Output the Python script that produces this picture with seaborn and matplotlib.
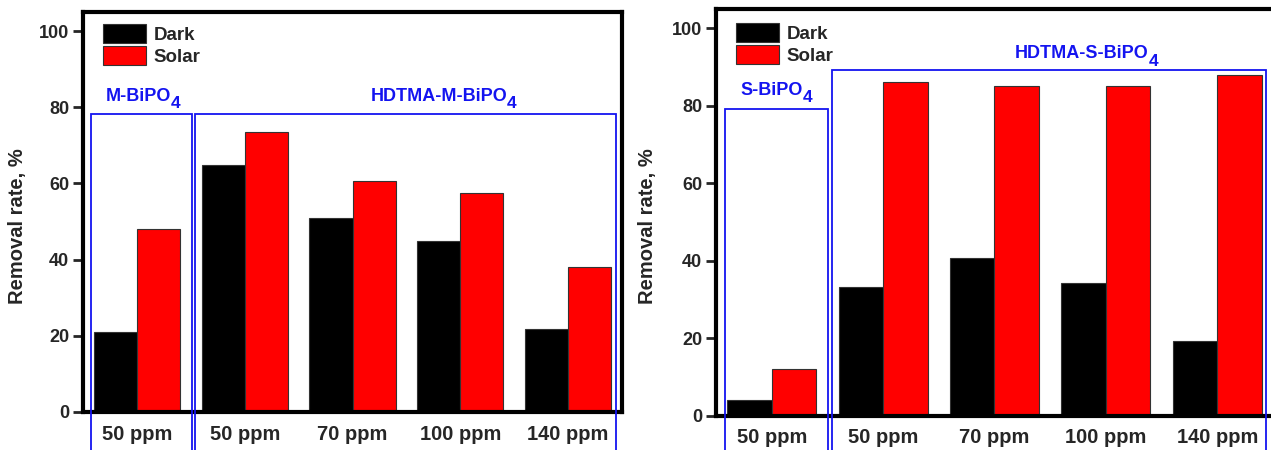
import seaborn as sns
import matplotlib.pyplot as plt
import pandas as pd
from matplotlib.patches import Rectangle

# ---------------------------
# Data
# ---------------------------
concentrations = ["50 ppm", "50 ppm ", "70 ppm", "100 ppm", "140 ppm"]
lights = ["Dark", "Solar"]

m_dark = [21.0, 64.8, 51.0, 45.0, 21.9]
m_solar = [48.0, 73.6, 60.6, 57.6, 38.0]

s_dark = [4.0, 33.1, 40.6, 34.2, 19.4]
s_solar = [12.0, 86.2, 85.1, 85.0, 87.9]


def make_df(dark, solar):
    return pd.DataFrame({
        "Concentration": concentrations * 2,
        "Light": ["Dark"] * len(dark) + ["Solar"] * len(solar),
        "Rate": list(dark) + list(solar),
    })


# ---------------------------
# Styling
# ---------------------------
sns.set_style("ticks")
plt.rcParams["font.family"] = ["Liberation Sans", "DejaVu Sans"]
plt.rcParams["font.weight"] = "bold"

palette = {"Dark": "#000000", "Solar": "#ff0000"}
blue = "#1414f0"

fig = plt.figure(figsize=(12.71, 4.5), dpi=100)
ax1 = fig.add_axes([83 / 1271, 1 - 412 / 450, 539 / 1271, 400 / 450])
ax2 = fig.add_axes([716 / 1271, 1 - 415.7 / 450, 557 / 1271, 406.7 / 450])

panels = [
    (ax1, make_df(m_dark, m_solar), 0.037, 0.97,
     [(-0.428, 0.512, 78.3), (0.54, 4.447, 78.3)],
     [(0.01, 81.7, "M-BiPO"), (2.8, 81.7, "HDTMA-M-BiPO")],
     -10.5, (-0.104, 0.465)),
    (ax2, make_df(s_dark, s_solar), 0.036, 0.966,
     [(-0.418, 0.508, 79.3), (0.54, 4.435, 89.2)],
     [(0.0, 82.8, "S-BiPO"), (2.78, 92.3, "HDTMA-S-BiPO")],
     -9.5, (-0.106, 0.466)),
]

for ax, df, lx, ly, boxes, labels, ybot, ylab in panels:
    sns.barplot(
        data=df, x="Concentration", y="Rate", hue="Light",
        hue_order=lights, palette=palette, saturation=1,
        width=0.8, gap=0, edgecolor="#333333", linewidth=0.8,
        ax=ax,
    )
    ax.set_xlim(-0.5, 4.5)
    ax.set_ylim(0, 105)
    ax.set_yticks([0, 20, 40, 60, 80, 100])
    ax.set_xlabel("")
    ax.set_ylabel("Removal rate, %", fontsize=14.5, fontweight="bold")
    ax.yaxis.set_label_coords(*ylab)
    ax.set_xticks(range(len(concentrations)))
    ax.set_xticklabels([c.strip() for c in concentrations], fontsize=14.5, fontweight="bold")
    ax.tick_params(axis="y", length=7, width=2, labelsize=13, pad=3)
    ax.tick_params(axis="x", length=0, pad=9)
    for sp in ax.spines.values():
        sp.set_visible(True)
        sp.set_linewidth(3)
        sp.set_color("black")

    # group boxes around sample series
    for x0, x1, ytop in boxes:
        ax.add_patch(Rectangle((x0, ybot), x1 - x0, ytop - ybot, fill=False,
                               edgecolor=blue, linewidth=1.3, clip_on=False, zorder=5))
    # sample names with a large, low subscript 4
    for x, y, txt in labels:
        t = ax.text(x, y, txt, color=blue, fontsize=13, fontweight="bold",
                    ha="center", va="baseline")
        ax.annotate("4", xy=(1, 0), xycoords=t, xytext=(0, -4.6),
                    textcoords="offset points", color=blue, fontsize=12.5,
                    fontweight="bold", ha="left", va="bottom")

    ax.legend(loc="upper left", bbox_to_anchor=(lx, ly), frameon=False,
              borderpad=0, borderaxespad=0, fontsize=13.5,
              handlelength=2.3, handleheight=1.2, labelspacing=0.12,
              handletextpad=0.4)

plt.savefig("out.png", dpi=100)
plt.close()
